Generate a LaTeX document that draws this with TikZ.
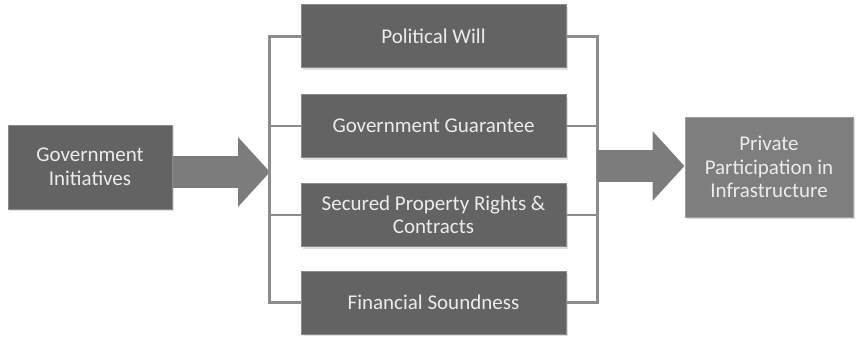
\documentclass[tikz,border=0pt]{standalone}
\usepackage{fontspec}
\setmainfont{Carlito}
\usepackage{xcolor}
\usepackage{tikz}
\usetikzlibrary{arrows.meta,positioning,calc,shadows}
\definecolor{boxgray}{HTML}{636363}
\definecolor{boxlight}{HTML}{7E7E7E}
\definecolor{arrowgray}{HTML}{7C7C7C}
\definecolor{linegray}{HTML}{8C8C8C}
\definecolor{textgray}{HTML}{ECECEC}

\begin{document}
\begin{tikzpicture}[x=1pt,y=-1pt,font=\fontsize{21}{23.5}\selectfont,
  factor/.style={fill=boxgray,draw=boxgray!75!white,line width=1pt,text=textgray,align=center,
    minimum width=265pt,minimum height=63pt,inner sep=2pt,
    drop shadow={opacity=0.25,shadow xshift=1.5pt,shadow yshift=-2pt}},
  endbox/.style={factor,minimum width=164pt,minimum height=84pt},
  goal/.style={factor,fill=boxlight,draw=boxlight!75!white,minimum width=168pt,minimum height=100pt},
  link/.style={draw=linegray,line width=2.2pt},
  fat/.style={draw=arrowgray,line width=32pt,-{Triangle[length=32pt,width=68pt]}}]
\useasboundingbox (0,0) rectangle (857,337);
% left block: initiatives feed the bracket
\node[endbox] (gi) at (90,167) {Government\\Initiatives};
\coordinate (inL) at (270,172);
\draw[fat] (gi.east |- inL) -- (inL);
% middle block: four factors between two brackets
\node[factor] (pw) at (433.5,36.5) {Political Will};
\node[factor] (gg) at (433.5,126) {Government Guarantee};
\node[factor] (sp) at (433.5,215) {Secured Property Rights \&\\Contracts};
\node[factor] (fs) at (433.5,302.5) {Financial Soundness};
\draw[link] (pw.west) -- ++(-31,0) |- (fs.west);
\draw[link] (gg.west) -- ++(-31,0);
\draw[link] (sp.west) -- ++(-31,0);
\draw[link] (pw.east) -- ++(31,0) |- (fs.east);
\draw[link] (gg.east) -- ++(31,0);
\draw[link] (sp.east) -- ++(31,0);
% right block: outcome
\node[goal] (ppi) at (769,167) {Private\\Participation in\\Infrastructure};
\coordinate (outR) at (597,166);
\draw[fat] (outR) -- (ppi.west |- outR);
\end{tikzpicture}
\end{document}
